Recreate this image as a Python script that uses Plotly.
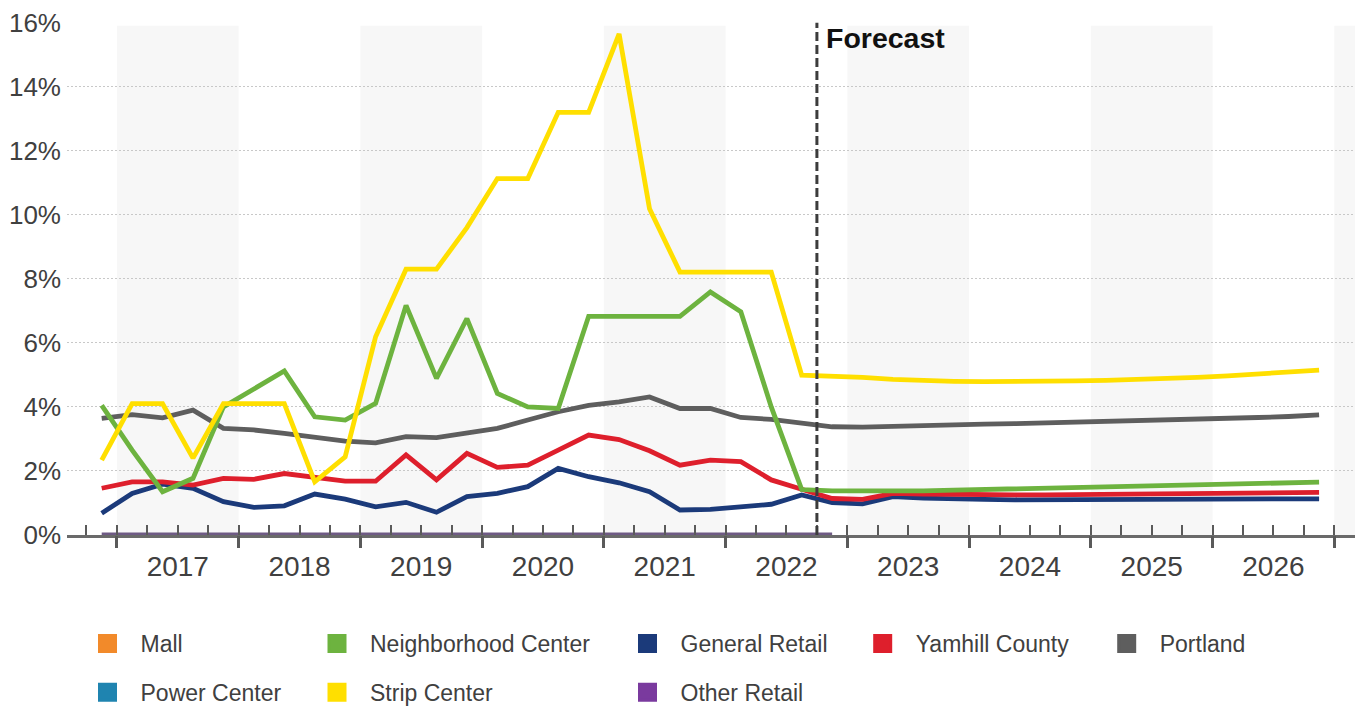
import plotly.graph_objects as go

# Quarterly vacancy rates (%), 2016 Q4 through 2026 Q4; forecast starts 2022 Q4
QUARTERS = (["2016 Q4"]
            + [f"{y} Q{q}" for y in range(2017, 2027) for q in (1, 2, 3, 4)])

STRIP_CENTER = [2.34, 4.10, 4.10, 2.40, 4.10, 4.10, 4.10, 1.66, 2.44, 6.19,
                8.30, 8.30, 9.60, 11.13, 11.13, 13.20, 13.20, 15.65, 10.19, 8.21,
                8.21, 8.21, 8.21, 4.99,
                4.97, 4.92, 4.86, 4.82, 4.80, 4.79, 4.79, 4.80, 4.81, 4.83,
                4.85, 4.88, 4.92, 4.97, 5.03, 5.09, 5.15]
NEIGHBORHOOD_CENTER = [4.05, 2.65, 1.35, 1.77, 4.00, 4.58, 5.12, 3.69, 3.59, 4.11,
                       7.17, 4.89, 6.76, 4.42, 4.00, 3.95, 6.83, 6.83, 6.83, 6.83,
                       7.59, 6.97, 4.00, 1.42,
                       1.38, 1.37, 1.37, 1.38, 1.40, 1.42, 1.44, 1.46, 1.48, 1.50,
                       1.52, 1.54, 1.56, 1.58, 1.60, 1.62, 1.65]
PORTLAND = [3.64, 3.76, 3.66, 3.90, 3.33, 3.28, 3.17, 3.04, 2.93, 2.88,
            3.07, 3.04, 3.17, 3.33, 3.59, 3.85, 4.05, 4.16, 4.31, 3.95,
            3.95, 3.67, 3.61, 3.50,
            3.38, 3.37, 3.40, 3.42, 3.44, 3.46, 3.48, 3.50, 3.52, 3.54,
            3.56, 3.58, 3.61, 3.64, 3.67, 3.70, 3.75]
YAMHILL_COUNTY = [1.46, 1.66, 1.66, 1.56, 1.77, 1.74, 1.92, 1.80, 1.68, 1.68,
                  2.50, 1.72, 2.55, 2.11, 2.18, 2.65, 3.12, 2.98, 2.63, 2.18,
                  2.34, 2.29, 1.72, 1.43,
                  1.14, 1.11, 1.30, 1.28, 1.26, 1.25, 1.25, 1.25, 1.26, 1.26,
                  1.27, 1.28, 1.29, 1.30, 1.31, 1.32, 1.33]
GENERAL_RETAIL = [0.68, 1.30, 1.59, 1.46, 1.04, 0.86, 0.91, 1.28, 1.12, 0.88,
                  1.02, 0.71, 1.20, 1.30, 1.51, 2.08, 1.82, 1.63, 1.35, 0.78,
                  0.80, 0.88, 0.96, 1.25,
                  1.01, 0.97, 1.20, 1.15, 1.12, 1.11, 1.10, 1.10, 1.10, 1.10,
                  1.11, 1.11, 1.12, 1.12, 1.13, 1.13, 1.13]
OTHER_RETAIL = [0.0] * 25 + [None] * 16
MALL = [None] * 41
POWER_CENTER = [None] * 41

FORECAST_START = 2022.75
YEARS = list(range(2017, 2027))
Y_TICKS = list(range(0, 17, 2))
Y_TICK_TEXT = [f"{v}%" for v in Y_TICKS]

COLORS = {
    "Mall": "#f28a2a",
    "Power Center": "#1f84b0",
    "Neighborhood Center": "#6db33f",
    "Strip Center": "#ffdf00",
    "General Retail": "#1b3a7a",
    "Other Retail": "#7a3a9e",
    "Yamhill County": "#de1f2c",
    "Portland": "#5e5e5e",
}
# the zero-valued series sits under the axis line, so it reads as a muted purple
LINE_COLORS = dict(COLORS, **{"Other Retail": "#6e5a84"})


def quarter_mid(label):
    year, q = label.split(" Q")
    return int(year) + (int(q) - 1) * 0.25 + 0.125


x = [quarter_mid(q) for q in QUARTERS]
X_MIN, X_MAX = 2016.59, 2027.17

fig = go.Figure()

# Lines (drawn back to front)
line_series = [
    ("Other Retail", OTHER_RETAIL),
    ("Portland", PORTLAND),
    ("General Retail", GENERAL_RETAIL),
    ("Yamhill County", YAMHILL_COUNTY),
    ("Neighborhood Center", NEIGHBORHOOD_CENTER),
    ("Strip Center", STRIP_CENTER),
    ("Mall", MALL),
    ("Power Center", POWER_CENTER),
]
for name, values in line_series:
    fig.add_trace(go.Scatter(
        x=x, y=values, mode="lines", name=name, showlegend=False,
        line=dict(color=LINE_COLORS[name], width=4.8), connectgaps=False,
        hovertemplate="%{y:.1f}%<extra>" + name + "</extra>",
    ))

# Square legend swatches, laid out in five columns
legend_columns = [
    ("legend", ["Mall", "Power Center"], 107.5),
    ("legend2", ["Neighborhood Center", "Strip Center"], 337),
    ("legend3", ["General Retail", "Other Retail"], 647.5),
    ("legend4", ["Yamhill County"], 882.7),
    ("legend5", ["Portland"], 1126.7),
]
PLOT_L, PLOT_R, PLOT_T, PLOT_B = 67, 1355, 22, 535
W, H = 1362, 707
font_family = "Arial, Liberation Sans, sans-serif"

legend_layouts = {}
for legend_id, names, swatch_cx in legend_columns:
    for name in names:
        fig.add_trace(go.Scatter(
            x=[None], y=[None], mode="markers", name=name, legend=legend_id,
            legendgroup=name,
            marker=dict(symbol="square", size=16, color=COLORS[name],
                        line=dict(color=COLORS[name], width=3)),
        ))
    legend_layouts[legend_id] = dict(
        x=(swatch_cx - 33 - PLOT_L) / (PLOT_R - PLOT_L),
        xanchor="left",
        y=(PLOT_B - 622) / (PLOT_B - PLOT_T),
        yanchor="top",
        orientation="v",
        traceorder="grouped",
        tracegroupgap=16,
        itemwidth=56,
        bgcolor="rgba(0,0,0,0)",
        font=dict(family=font_family, size=23, color="#404040"),
    )

# Alternating year bands
shapes = []
for yr in range(2017, 2028, 2):
    shapes.append(dict(
        type="rect", xref="x", yref="y", layer="below",
        x0=yr, x1=min(yr + 1, X_MAX), y0=0, y1=15.9,
        fillcolor="#f7f7f7", line=dict(width=0),
    ))
# Forecast divider
shapes.append(dict(
    type="line", xref="x", yref="y", layer="above",
    x0=FORECAST_START, x1=FORECAST_START, y0=0, y1=16,
    line=dict(color="#3c3c3c", width=3, dash="9px,4px"),
))

fig.update_layout(
    width=W, height=H,
    margin=dict(l=PLOT_L, r=W - PLOT_R, t=PLOT_T, b=H - PLOT_B, pad=0,
                autoexpand=False),
    paper_bgcolor="white", plot_bgcolor="white",
    font=dict(family=font_family, color="#404040"),
    shapes=shapes,
    annotations=[dict(
        x=FORECAST_START, y=16, xref="x", yref="y",
        xanchor="left", yanchor="top", xshift=7, yshift=3,
        text="<b>Forecast</b>", showarrow=False,
        font=dict(family=font_family, size=28.5, color="#111111"),
    )],
    xaxis=dict(
        range=[X_MIN, X_MAX],
        tickvals=[yr + 0.5 for yr in YEARS],
        ticktext=[str(yr) for yr in YEARS],
        ticks="", showgrid=False, zeroline=False,
        showline=True, linecolor="#6a6a6a", linewidth=3,
        tickfont=dict(size=28, color="#404040"),
        ticklabelstandoff=4,
        layer="above traces",
    ),
    # quarter ticks (inside)
    xaxis2=dict(
        overlaying="x", anchor="y", range=[X_MIN, X_MAX],
        tickvals=[2016.75 + 0.25 * k for k in range(42)],
        ticks="inside", ticklen=10, tickwidth=2, tickcolor="#5a5a5a",
        showticklabels=False, showgrid=False, zeroline=False, showline=False,
        layer="above traces",
    ),
    # year boundary ticks (outside)
    xaxis3=dict(
        overlaying="x", anchor="y", range=[X_MIN, X_MAX],
        tickvals=[2017 + k for k in range(11)],
        ticks="outside", ticklen=12, tickwidth=3, tickcolor="#5a5a5a",
        showticklabels=False, showgrid=False, zeroline=False, showline=False,
        layer="above traces",
    ),
    yaxis=dict(
        range=[0, 16.02], tickvals=Y_TICKS, ticktext=Y_TICK_TEXT,
        showgrid=True, gridcolor="#c8c8c8", gridwidth=1, griddash="2px,2px",
        zeroline=False, showline=False, ticks="",
        tickfont=dict(size=26, color="#404040"),
        ticklabelstandoff=5,
    ),
    **legend_layouts,
)

# Placeholder traces so the tick-only axes are rendered
fig.add_trace(go.Scatter(x=[None], y=[None], xaxis="x2", showlegend=False, hoverinfo="skip"))
fig.add_trace(go.Scatter(x=[None], y=[None], xaxis="x3", showlegend=False, hoverinfo="skip"))

fig.write_html("out.html")
